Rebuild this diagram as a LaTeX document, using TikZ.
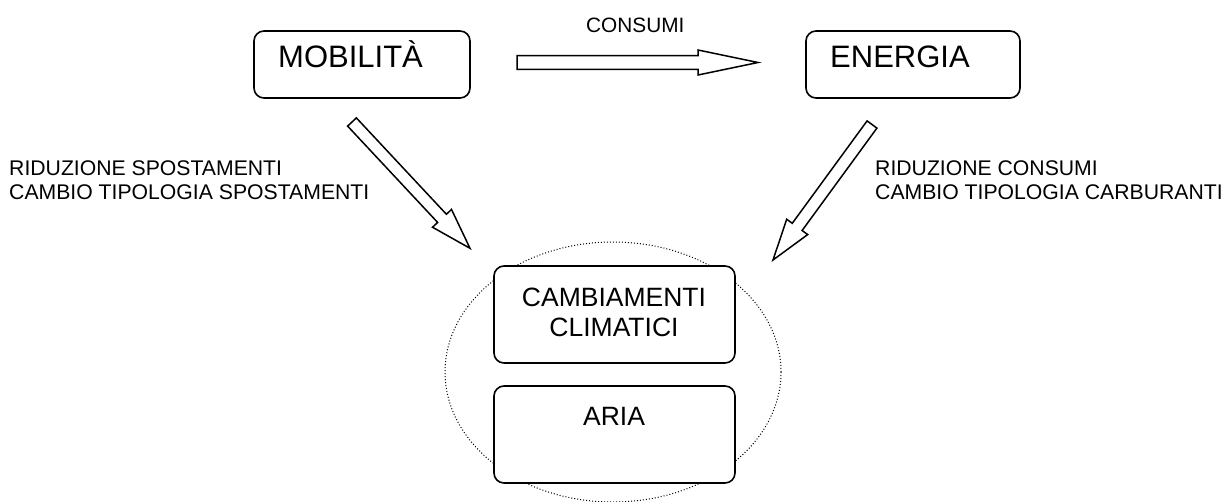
\documentclass[tikz,border=0pt]{standalone}
\usepackage{fontspec}
\setmainfont{Liberation Sans}
\usetikzlibrary{calc}
\tikzset{
  box/.style={draw, line width=1.6pt, rounded corners=10pt, fill=white, inner sep=0pt},
  bigtxt/.style={font=\fontsize{31}{37}\selectfont, inner sep=0pt},
  midtxt/.style={font=\fontsize{26.5}{30}\selectfont, inner sep=0pt, anchor=base},
  smalltxt/.style={font=\fontsize{21.2}{25}\selectfont, inner sep=0pt, anchor=base west},
  blockarr/.style={draw, line width=1.5pt, fill=white, line join=miter},
  halo/.style={draw, dotted, line width=1pt},
}
% tail, tip, shaft half width, head half width, head length
\newcommand{\BlockArr}[5]{%
  \coordinate (bac) at ($(#2)!#5!(#1)$);
  \draw[blockarr] ($(#1)!#3!90:(#2)$) -- ($(bac)!#3!90:(#2)$) -- ($(bac)!#4!90:(#2)$)
    -- (#2) -- ($(bac)!#4!-90:(#2)$) -- ($(bac)!#3!-90:(#2)$) -- ($(#1)!#3!-90:(#2)$) -- cycle;
}
\begin{document}
\begin{tikzpicture}[x=1pt,y=-1pt]
\useasboundingbox (0,0) rectangle (1226,501);
% top boxes
\node[box, minimum width=216pt, minimum height=67pt] (mob) at (362,64.5) {};
\node[bigtxt, anchor=base west] (mobt) at (278,67) {MOBILITÀ};
\node[box, minimum width=214pt, minimum height=67pt] (ene) at (913,64.5) {};
\node[bigtxt, anchor=base west] (enet) at (830,67.5) {ENERGIA};
% consumi arrow
\coordinate (c1) at (517,62.5);
\coordinate (c2) at (758,62.5);
\BlockArr{c1}{c2}{6.8pt}{12.5pt}{60pt}
\node[smalltxt, font=\fontsize{20.8}{25}\selectfont] (cons) at (586,32.3) {CONSUMI};
% diagonal arrows
\coordinate (l1) at (352,122);
\coordinate (l2) at (470,248.3);
\BlockArr{l1}{l2}{6pt}{13pt}{41pt}
\coordinate (r1) at (872,124.5);
\coordinate (r2) at (773,260);
\BlockArr{r1}{r2}{6.1pt}{13pt}{41pt}
% side labels
\node[smalltxt] (lt1) at (9,175) {RIDUZIONE SPOSTAMENTI};
\node[smalltxt] (lt2) at (9,199.5) {CAMBIO TIPOLOGIA SPOSTAMENTI};
\node[smalltxt] (rt1) at (875,175) {RIDUZIONE CONSUMI};
\node[smalltxt] (rt2) at (875,199.5) {CAMBIO TIPOLOGIA CARBURANTI};
% ellipse and bottom boxes
\draw[halo] (613,372) ellipse [x radius=168, y radius=130];
\node[box, minimum width=241pt, minimum height=97pt] (camb) at (614.5,314.5) {};
\node[midtxt] (cambt1) at (614,306) {CAMBIAMENTI};
\node[midtxt] (cambt2) at (614,336) {CLIMATICI};
\node[box, minimum width=241pt, minimum height=97pt] (aria) at (614.5,434.5) {};
\node[midtxt] (ariat) at (614,425) {ARIA};
\end{tikzpicture}
\end{document}
